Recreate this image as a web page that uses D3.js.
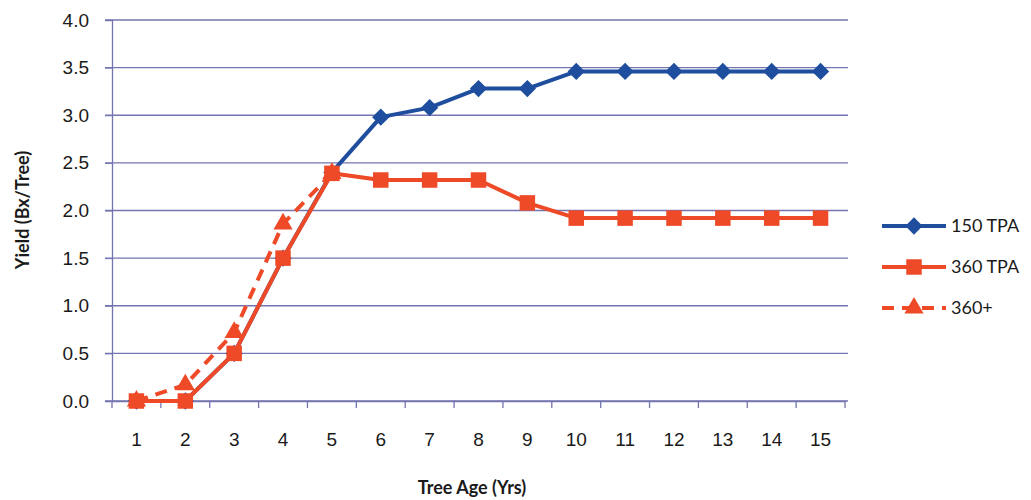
<!DOCTYPE html>
<html>
<head>
<meta charset="utf-8">
<script src="https://cdn.jsdelivr.net/npm/d3@7/dist/d3.min.js"></script>
<style>
  html, body { margin: 0; padding: 0; background: #fff; }
  svg { display: block; font-family: Lato, "Open Sans", sans-serif; }
</style>
</head>
<body>
<svg id="chart" width="1031" height="500"></svg>
<script>
// Tree age (years) on the x axis
const ages = [1, 2, 3, 4, 5, 6, 7, 8, 9, 10, 11, 12, 13, 14, 15];
// Yield per tree (boxes) for each planting density
const tpa150 = [0, 0, 0.5, 1.5, 2.4, 2.98, 3.08, 3.28, 3.28, 3.46, 3.46, 3.46, 3.46, 3.46, 3.46];
const tpa360 = [0, 0, 0.5, 1.5, 2.39, 2.32, 2.32, 2.32, 2.08, 1.92, 1.92, 1.92, 1.92, 1.92, 1.92];
const tpa360plus = [0, 0.17, 0.72, 1.86, 2.39];
const yTicks = [0, 0.5, 1, 1.5, 2, 2.5, 3, 3.5, 4];
const seriesNames = ["150 TPA", "360 TPA", "360+"];

const blue = "#1f4e9e";
const red = "#ee4a28";
const gridColor = "#7474b0";
const textColor = "#1a1a1a";

const svg = d3.select("#chart");
const plotLeft = 112, plotRight = 845, plotTop = 20, plotBottom = 401;

const x = d3.scaleBand().domain(ages).range([plotLeft, plotRight]);
const y = d3.scaleLinear().domain([0, 4]).range([plotBottom, plotTop]);
const cx = d => x(d) + x.bandwidth() / 2;

// Horizontal gridlines
svg.append("g")
  .selectAll("line")
  .data(yTicks)
  .join("line")
  .attr("x1", plotLeft - 7).attr("x2", plotRight + 3)
  .attr("y1", d => y(d)).attr("y2", d => y(d))
  .attr("stroke", gridColor).attr("stroke-width", 1.3);

// Y axis
const yAxis = svg.append("g")
  .attr("transform", `translate(${plotLeft},0)`)
  .call(d3.axisLeft(y).tickValues(yTicks).tickFormat(d3.format(".1f")).tickSize(7).tickPadding(16));
yAxis.select(".domain").attr("stroke", gridColor).attr("stroke-width", 1.3);
yAxis.selectAll(".tick line").attr("stroke", gridColor);
yAxis.selectAll("text").attr("font-size", 19).attr("fill", textColor);

// X axis with ticks at category boundaries
const xAxis = svg.append("g")
  .attr("transform", `translate(0,${plotBottom})`)
  .call(d3.axisBottom(x).tickSize(0).tickPadding(32));
xAxis.select(".domain").attr("stroke", gridColor).attr("stroke-width", 1.3);
xAxis.selectAll("text").attr("font-size", 19).attr("fill", textColor);
svg.append("g")
  .selectAll("line")
  .data(d3.range(ages.length + 1))
  .join("line")
  .attr("x1", i => plotLeft + i * x.bandwidth())
  .attr("x2", i => plotLeft + i * x.bandwidth())
  .attr("y1", plotBottom).attr("y2", plotBottom + 7)
  .attr("stroke", gridColor).attr("stroke-width", 1.3);

// Axis titles
svg.append("text")
  .attr("x", 472).attr("y", 494)
  .attr("text-anchor", "middle")
  .attr("font-size", 18).attr("font-weight", "bold").attr("fill", textColor)
  .text("Tree Age (Yrs)");
svg.append("text")
  .attr("transform", "translate(29,210) rotate(-90)")
  .attr("text-anchor", "middle")
  .attr("font-size", 18).attr("font-weight", "bold").attr("fill", textColor)
  .text("Yield (Bx/Tree)");

const line = d3.line().x(d => cx(d.age)).y(d => y(d.v));
const toPts = arr => arr.map((v, i) => ({ age: ages[i], v }));

const sym = {
  diamond: d3.symbol().type(d3.symbolDiamond2).size(190),
  square: d3.symbol().type(d3.symbolSquare).size(240),
  triangle: d3.symbol().type(d3.symbolTriangle).size(160)
};

function drawSeries(vals, color, dash, symbol) {
  const pts = toPts(vals);
  svg.append("path")
    .datum(pts)
    .attr("d", line)
    .attr("fill", "none")
    .attr("stroke", color)
    .attr("stroke-width", 4)
    .attr("stroke-dasharray", dash)
    .attr("stroke-linejoin", "round");
  svg.append("g")
    .selectAll("path")
    .data(pts)
    .join("path")
    .attr("d", symbol)
    .attr("transform", d => `translate(${cx(d.age)},${y(d.v)})`)
    .attr("fill", color);
}

drawSeries(tpa150, blue, null, sym.diamond);
drawSeries(tpa360plus, red, "12,8", sym.triangle);
drawSeries(tpa360, red, null, sym.square);

// Legend
const legend = [
  { name: seriesNames[0], color: blue, dash: null, symbol: sym.diamond },
  { name: seriesNames[1], color: red, dash: null, symbol: sym.square },
  { name: seriesNames[2], color: red, dash: "12,8", symbol: sym.triangle }
];
const lg = svg.append("g").selectAll("g")
  .data(legend)
  .join("g")
  .attr("transform", (d, i) => `translate(882,${226 + i * 41})`);
lg.append("line")
  .attr("x1", 0).attr("x2", 64).attr("y1", 0).attr("y2", 0)
  .attr("stroke", d => d.color).attr("stroke-width", 4)
  .attr("stroke-dasharray", d => d.dash);
lg.append("path")
  .attr("d", d => d.symbol())
  .attr("transform", "translate(32,0)")
  .attr("fill", d => d.color);
lg.append("text")
  .attr("x", 69).attr("y", 6)
  .attr("font-size", 18).attr("fill", textColor)
  .text(d => d.name);
</script>
</body>
</html>
